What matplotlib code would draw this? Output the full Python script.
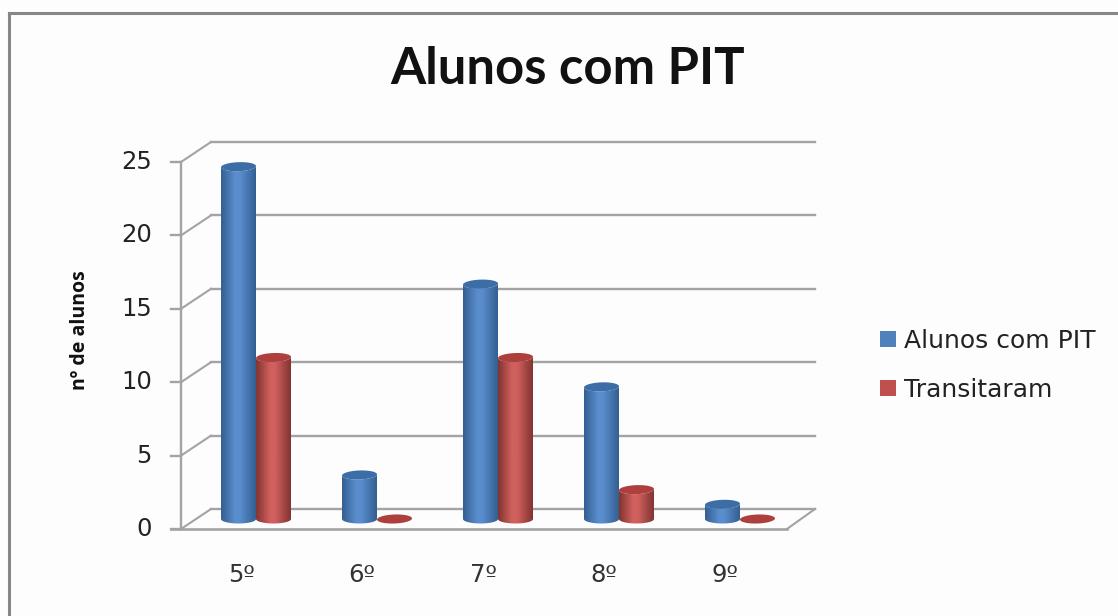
import numpy as np
import matplotlib
matplotlib.use("Agg")
import matplotlib.pyplot as plt
from matplotlib.colors import LinearSegmentedColormap, to_rgb
from matplotlib.lines import Line2D
from matplotlib.patches import Patch, PathPatch, Polygon
from matplotlib.path import Path

categories = ["5º", "6º", "7º", "8º", "9º"]
alunos_pit = [24, 3, 16, 9, 1]
transitaram = [11, 0, 11, 2, 0]
y_ticks = [0, 5, 10, 15, 20, 25]

W, H = 1118, 616
BG = "#fdfdfd"
GRID = "#a3a3a3"
TEXT = "#222222"

# px helpers, the chart is a fake 3d so the axes sit on the plane of the bars
PX_GROUP = 121.0
PX_UNIT = 14.68
BAR_W = 35 / PX_GROUP
CAP_H = 4.5 / PX_UNIT
DEPTH_Y = 10 / PX_UNIT

fig = plt.figure(figsize=(W / 100, H / 100), dpi=100, facecolor=BG)
ax = fig.add_axes([181 / W, 1 - 519 / H, (815 - 181) / W, 25 * PX_UNIT / H])
ax.set_facecolor("none")
ax.axis("off")


def cap_xy(cx, cy, half=False, tilt=0.0):
    t = np.linspace(np.pi, 2 * np.pi, 40) if half else np.linspace(0, 2 * np.pi, 80)
    x = cx + BAR_W / 2 * np.cos(t)
    y = cy + CAP_H * np.sin(t) + tilt * np.cos(t)
    return np.column_stack([x, y])


def cylinder(cx, value, dark, mid, cap):
    if value > 0:
        cmap = LinearSegmentedColormap.from_list("c", [(0, dark), (0.4, mid), (0.55, mid), (1, dark)])
        grad = np.linspace(0, 1, 64).reshape(1, -1)
        im = ax.imshow(grad, cmap=cmap, aspect="auto", zorder=3,
                       extent=[cx - BAR_W / 2, cx + BAR_W / 2, -1, value])
        bottom = cap_xy(cx, 0, half=True)
        top = cap_xy(cx, value, half=True, tilt=0.04)[::-1]
        body = np.vstack([bottom, top, bottom[:1]])
        clip = PathPatch(Path(body, closed=True), transform=ax.transData)
        im.set_clip_path(clip)
        im.set_clip_box(fig.bbox)
    ax.add_patch(Polygon(cap_xy(cx, value, tilt=0.04), closed=True, fc=cap, ec="none", zorder=4, clip_on=False))


# back wall gridlines, the depth diagonals and the front ticks
wall_x0 = -0.372
front_x0 = -0.62
tick_x0 = -0.70
floor_x1 = 4.388
wall_x1 = 4.62
for v in y_ticks:
    ax.plot([wall_x0, wall_x1], [v + DEPTH_Y, v + DEPTH_Y], color=GRID, lw=1.7, zorder=1, clip_on=False)
    ax.plot([front_x0, wall_x0], [v - DEPTH_Y, v + DEPTH_Y], color=GRID, lw=1.5, zorder=1, clip_on=False)
    ax.plot([tick_x0, front_x0], [v - DEPTH_Y, v - DEPTH_Y], color=GRID, lw=1.7, zorder=1, clip_on=False)
    ax.text(-0.86, v - DEPTH_Y, str(v), ha="right", va="center", fontsize=17.5, color=TEXT)
ax.plot([front_x0, front_x0], [-DEPTH_Y, 25 - DEPTH_Y], color=GRID, lw=1.7, zorder=1, clip_on=False)
ax.plot([tick_x0, floor_x1], [-DEPTH_Y, -DEPTH_Y], color=GRID, lw=1.9, zorder=1, clip_on=False)
ax.plot([floor_x1, wall_x1], [-DEPTH_Y, DEPTH_Y], color=GRID, lw=1.5, zorder=1, clip_on=False)

for i, (a, b) in enumerate(zip(alunos_pit, transitaram)):
    cylinder(i - BAR_W / 2, a, "#345f92", "#5a8dcd", "#3c6da6")
    cylinder(i + BAR_W / 2, b, "#823432", "#d0605d", "#ad3f3c")

for i, c in enumerate(categories):
    ax.text(i - 0.124, -3.8, c, ha="center", va="center", fontsize=17.5, color="#333333")

ax.set_xlim(front_x0, wall_x1)
ax.set_ylim(0, 25)

fig.text(568 / W, 1 - 69 / H, "Alunos com PIT", ha="center", va="center",
         fontsize=36.5, fontweight="bold", family="Lato", color="#111111")
fig.text(80 / W, 1 - 330 / H, "nº de alunos", rotation=90, ha="center", va="center",
         fontsize=14, fontweight="bold", family="Open Sans", color="#111111")

handles = [Patch(fc=to_rgb("#4f81bd"), ec="none"), Patch(fc=to_rgb("#c0504d"), ec="none")]
fig.legend(handles, ["Alunos com PIT", "Transitaram"], loc="upper left",
           bbox_to_anchor=(880 / W, 1 - 329 / H), frameon=False, fontsize=18,
           labelcolor=TEXT, borderpad=0, borderaxespad=0, handlelength=0.64,
           handleheight=0.64, handletextpad=0.32, labelspacing=1.0)

# outer border of the chart, only top and left show in the crop
fig.add_artist(Line2D([9 / W, 9 / W], [0, 1 - 13 / H], color="#878787", lw=2.2))
fig.add_artist(Line2D([9 / W, 1], [1 - 13 / H, 1 - 13 / H], color="#878787", lw=2.2))

fig.savefig("out.png", dpi=100, facecolor=BG)
